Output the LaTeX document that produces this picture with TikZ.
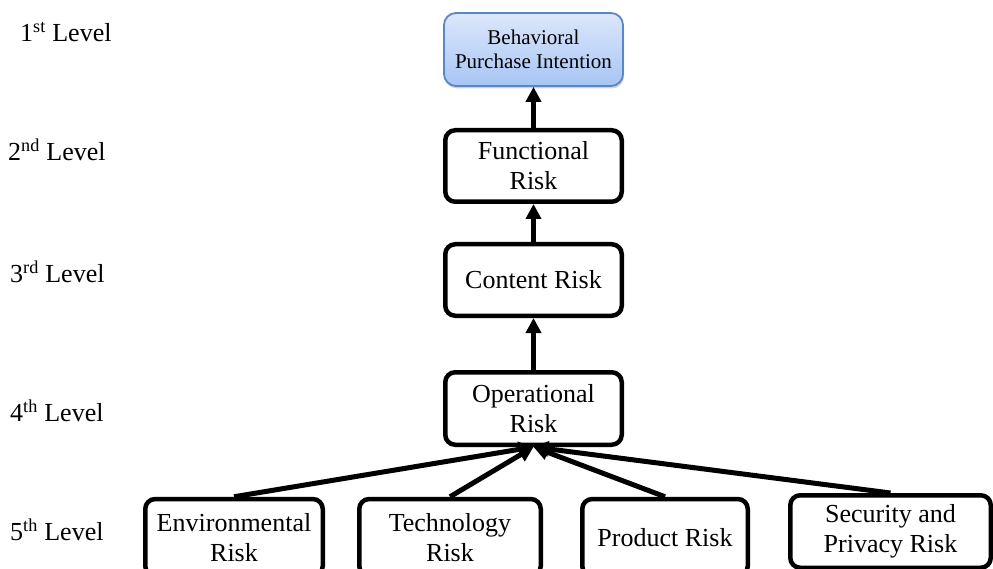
\documentclass[tikz,border=0pt]{standalone}
\usepackage{fontspec}
\setmainfont{Liberation Serif}
\usetikzlibrary{arrows.meta,shadows}

\definecolor{topfill}{HTML}{DCE7FB}
\definecolor{botfill}{HTML}{A8C5F4}
\definecolor{topedge}{HTML}{5A87C8}

\tikzset{
  riskbox/.style={draw=black, line width=4.5pt, rounded corners=10pt, fill=white,
    align=center, inner sep=0pt, font=\fontsize{26}{30}\selectfont},
  goalbox/.style={draw=topedge, line width=1.8pt, rounded corners=12pt,
    top color=topfill, bottom color=botfill, align=center, inner sep=0pt,
    font=\fontsize{21}{24}\selectfont,
    drop shadow={opacity=0.35, shadow xshift=1pt, shadow yshift=-2.5pt}},
  levellabel/.style={anchor=west, inner sep=0pt, font=\fontsize{26}{30}\selectfont},
  uparrow/.style={draw=black, line width=5pt, -{Triangle[length=15pt,width=15pt]}},
}

\begin{document}
\begin{tikzpicture}[x=1pt, y=-1pt]
  \useasboundingbox (0,0) rectangle (993,569);
  \clip (0,0) rectangle (993,569);
  \fill[white] (0,0) rectangle (993,569);

  % level labels
  \node[levellabel] (l1) at (20,32)  {1\textsuperscript{st} Level};
  \node[levellabel] (l2) at (8,150)  {2\textsuperscript{nd} Level};
  \node[levellabel] (l3) at (10,272) {3\textsuperscript{rd} Level};
  \node[levellabel] (l4) at (10,411) {4\textsuperscript{th} Level};
  \node[levellabel] (l5) at (10,530) {5\textsuperscript{th} Level};

  % hierarchy
  \node[goalbox, minimum width=179pt, minimum height=73pt] (bpi) at (533.5,49.5)
    {Behavioral\\Purchase Intention};
  \node[riskbox, minimum width=176.5pt, minimum height=71.5pt] (func) at (533.5,166)
    {Functional\\Risk};
  \node[riskbox, minimum width=176.5pt, minimum height=71.5pt] (cont) at (533.5,280)
    {Content Risk};
  \node[riskbox, minimum width=176.5pt, minimum height=72.5pt] (oper) at (533.5,408.5)
    {Operational\\Risk};

  % fifth level (runs past the lower edge)
  \node[riskbox, minimum width=177.5pt, minimum height=77pt] (env) at (234,537.5)
    {Environmental\\Risk};
  \node[riskbox, minimum width=181.5pt, minimum height=77pt] (tech) at (450,537.5)
    {Technology\\Risk};
  \node[riskbox, minimum width=165.5pt, minimum height=77pt] (prod) at (665,537.5)
    {Product Risk};
  \node[riskbox, minimum width=200.5pt, minimum height=72.5pt] (sec) at (890.5,531.5)
    {Security and\\Privacy Risk};

  % connectors
  \draw[uparrow] (func.north) -- (bpi.south);
  \draw[uparrow] (cont.north) -- (func.south);
  \draw[uparrow] (oper.north) -- (cont.south);
  \draw[uparrow] (env.north)  -- (oper.south);
  \draw[uparrow] (tech.north) -- (oper.south);
  \draw[uparrow] (prod.north) -- (oper.south);
  \draw[uparrow] (sec.north)  -- (oper.south);
\end{tikzpicture}
\end{document}
